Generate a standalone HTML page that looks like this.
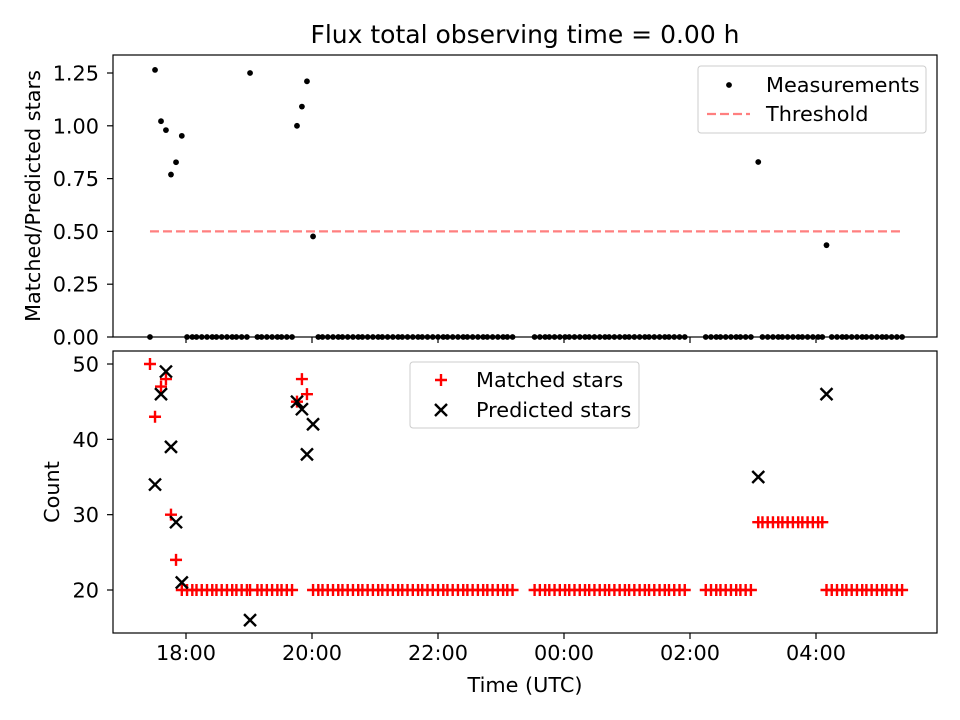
<!DOCTYPE html>
<html><head><meta charset="utf-8">
<style>
body{margin:0;background:#fff;}
svg{display:block;font-family:"DejaVu Sans","Liberation Sans",sans-serif;}
</style></head>
<body>
<svg id="chart" width="960" height="720" viewBox="0 0 960 720">
<rect width="960" height="720" fill="#fff"/>
<text x="525" y="43" font-size="25" text-anchor="middle">Flux total observing time = 0.00 h</text>
<g id="topPanel"></g>
<g id="botPanel"></g>
</svg>
<script>
// minutes after 17:00 UTC
const times = [25.7,30.5,36.2,40.9,45.7,50.5,
56,61,66,70,75,80,85,89,94,99,104,108,113,118,121,128,132,137,142,147,151,156,161,
165.7,170.4,175.2,181,
186,190,195,200,205,209,214,219,224,228,233,238,243,247,252,257,262,266,271,276,281,285,290,295,300,305,309,314,319,324,328,333,338,343,347,352,357,362,366,371,
392,397,402,406,411,416,421,425,430,435,440,444,449,454,459,463,468,473,478,482,487,492,497,501,506,511,516,520,525,530,535,
555,560,565,569,574,579,584,588,593,598,
605,609,614,619,624,628,633,638,643,647,652,657,662,666,
670,675,680,685,689,694,699,704,708,713,718,723,727,732,737,742];
const matched = [50,43,47,48,30,24,
20,20,20,20,20,20,20,20,20,20,20,20,20,20,20,20,20,20,20,20,20,20,20,
45,48,46,20,
20,20,20,20,20,20,20,20,20,20,20,20,20,20,20,20,20,20,20,20,20,20,20,20,20,20,20,20,20,20,20,20,20,20,20,20,20,20,20,20,
20,20,20,20,20,20,20,20,20,20,20,20,20,20,20,20,20,20,20,20,20,20,20,20,20,20,20,20,20,20,20,
20,20,20,20,20,20,20,20,20,20,
29,29,29,29,29,29,29,29,29,29,29,29,29,29,
20,20,20,20,20,20,20,20,20,20,20,20,20,20,20,20];
const predicted = [0,34,46,49,39,29,
21,0,0,0,0,0,0,0,0,0,0,0,0,0,16,0,0,0,0,0,0,0,0,
45,44,38,42,
0,0,0,0,0,0,0,0,0,0,0,0,0,0,0,0,0,0,0,0,0,0,0,0,0,0,0,0,0,0,0,0,0,0,0,0,0,0,0,0,
0,0,0,0,0,0,0,0,0,0,0,0,0,0,0,0,0,0,0,0,0,0,0,0,0,0,0,0,0,0,0,
0,0,0,0,0,0,0,0,0,0,
35,0,0,0,0,0,0,0,0,0,0,0,0,0,
46,0,0,0,0,0,0,0,0,0,0,0,0,0,0,0];
const xTicks = [60,180,300,420,540,660];
const xTickLabels = ["18:00","20:00","22:00","00:00","02:00","04:00"];
const topTicks = [0,0.25,0.5,0.75,1.0,1.25];
const topTickLabels = ["0.00","0.25","0.50","0.75","1.00","1.25"];
const botTicks = [20,30,40,50];
const threshold = 0.5;
const thrRange = [25.7,742];

const NS="http://www.w3.org/2000/svg";
const L=113,R=937;
const T1=55,B1=337,T2=351,B2=633;
const FS=20.8;
const DASH='9,4';
const xs=m=>123+m*1.05;
const yTop=v=>337-v*211.2;
const yBot=v=>590-(v-20)*7.533;
function mk(tag,attrs,parent,txt){const e=document.createElementNS(NS,tag);for(const k in attrs)e.setAttribute(k,attrs[k]);if(txt!==undefined)e.textContent=txt;parent.appendChild(e);return e;}
const topG=document.getElementById('topPanel'),botG=document.getElementById('botPanel');

// top panel
mk('rect',{x:L,y:T1,width:R-L,height:B1-T1,fill:'#fff'},topG);
const thr=mk('line',{x1:xs(thrRange[0]),x2:xs(thrRange[1]),y1:yTop(threshold),y2:yTop(threshold),stroke:'#ff7f7f','stroke-width':2.2,'stroke-dasharray':DASH},topG);


times.forEach((t,i)=>{
  const r=predicted[i]>0?matched[i]/predicted[i]:0;
  const c=mk('circle',{cx:xs(t),cy:yTop(r),r:2.9,fill:'#000'},topG);
  
  
});
mk('rect',{x:L,y:T1,width:R-L,height:B1-T1,fill:'none',stroke:'#000','stroke-width':1.2},topG);
topTicks.forEach((v,i)=>{
  const y=yTop(v);
  mk('line',{x1:L-6,x2:L,y1:y,y2:y,stroke:'#000','stroke-width':1.2},topG);
  const tl=mk('text',{x:L-14,y:y+7.5,'font-size':FS,'text-anchor':'end'},topG,topTickLabels[i]);
  
  
});
xTicks.forEach(m=>{mk('line',{x1:xs(m),x2:xs(m),y1:B1,y2:B1+6,stroke:'#000','stroke-width':1.2},topG);});
const yl1=mk('text',{x:40,y:196,'font-size':FS,'text-anchor':'middle',transform:'rotate(-90 40 196)'},topG,'Matched/Predicted stars');


const lg1=mk('g',{},topG);


mk('rect',{x:698,y:66,width:228,height:67,rx:3,fill:'#fff',stroke:'#ccc'},lg1);
mk('circle',{cx:729,cy:85,r:2.9,fill:'#000'},lg1);
mk('text',{x:766,y:92,'font-size':FS},lg1,'Measurements');
mk('line',{x1:707,x2:750,y1:114,y2:114,stroke:'#ff7f7f','stroke-width':2.2,'stroke-dasharray':DASH},lg1);
mk('text',{x:766,y:121,'font-size':FS},lg1,'Threshold');

// bottom panel
mk('rect',{x:L,y:T2,width:R-L,height:B2-T2,fill:'#fff'},botG);
const clip=mk('clipPath',{id:'cb'},botG);mk('rect',{x:L,y:T2,width:R-L,height:B2-T2},clip);
const pg=mk('g',{'clip-path':'url(#cb)'},botG);
function plus(x,y,g){return mk('path',{d:`M${x-6},${y}H${x+6}M${x},${y-6}V${y+6}`,stroke:'#f00','stroke-width':2.4},g);}
function cross(x,y,g){return mk('path',{d:`M${x-6},${y-6}L${x+6},${y+6}M${x-6},${y+6}L${x+6},${y-6}`,stroke:'#000','stroke-width':2.4},g);}
times.forEach((t,i)=>{
  const p=plus(xs(t),yBot(matched[i]),pg);
  
  
});
times.forEach((t,i)=>{
  const c=cross(xs(t),yBot(predicted[i]),pg);
  
  
});
mk('rect',{x:L,y:T2,width:R-L,height:B2-T2,fill:'none',stroke:'#000','stroke-width':1.2},botG);
botTicks.forEach(v=>{
  const y=yBot(v);
  mk('line',{x1:L-6,x2:L,y1:y,y2:y,stroke:'#000','stroke-width':1.2},botG);
  const tl=mk('text',{x:L-14,y:y+7.5,'font-size':FS,'text-anchor':'end'},botG,String(v));
  
  
});
xTicks.forEach((m,i)=>{
  mk('line',{x1:xs(m),x2:xs(m),y1:B2,y2:B2+6,stroke:'#000','stroke-width':1.2},botG);
  const tl=mk('text',{x:xs(m),y:B2+27,'font-size':FS,'text-anchor':'middle'},botG,xTickLabels[i]);
  
  
});
const xl=mk('text',{x:525,y:692,'font-size':FS,'text-anchor':'middle'},botG,'Time (UTC)');


const yl2=mk('text',{x:59,y:492,'font-size':FS,'text-anchor':'middle',transform:'rotate(-90 59 492)'},botG,'Count');


const lg2=mk('g',{},botG);


mk('rect',{x:410,y:362,width:229,height:66,rx:3,fill:'#fff',stroke:'#ccc'},lg2);
plus(441,380,lg2);
mk('text',{x:476,y:387,'font-size':FS},lg2,'Matched stars');
cross(441,410,lg2);
mk('text',{x:476,y:417,'font-size':FS},lg2,'Predicted stars');
</script>
</body></html>
